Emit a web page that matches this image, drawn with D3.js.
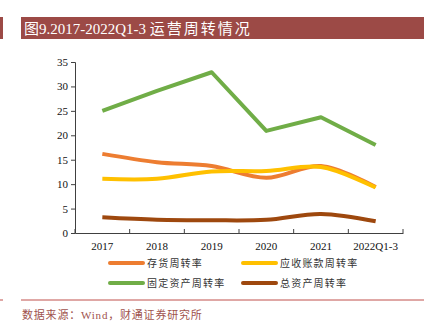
<!DOCTYPE html>
<html>
<head>
<meta charset="utf-8">
<script src="https://cdn.jsdelivr.net/npm/d3@7"></script>
<style>
  body { margin: 0; background: #fff; }
  svg { display: block; }
</style>
</head>
<body>
<div id="chart"></div>
<script>
// categories and series
var years = ["2017", "2018", "2019", "2020", "2021", "2022Q1-3"];
var inventoryTurn = [16.2, 14.5, 13.7, 11.3, 13.7, 9.4];
var receivableTurn = [11.1, 11.1, 12.6, 12.7, 13.5, 9.3];
var fixedAssetTurn = [25.0, 29.1, 32.9, 20.9, 23.7, 18.0];
var totalAssetTurn = [3.2, 2.7, 2.6, 2.7, 3.9, 2.4];
var yTicks = [0, 5, 10, 15, 20, 25, 30, 35];

var series = [
  { name: "存货周转率", values: inventoryTurn, color: "#ED7D31", smooth: true },
  { name: "应收账款周转率", values: receivableTurn, color: "#FFC000", smooth: true },
  { name: "固定资产周转率", values: fixedAssetTurn, color: "#70AD47", smooth: false },
  { name: "总资产周转率", values: totalAssetTurn, color: "#9E480E", smooth: true }
];

var svgWidth = 438;
var svgHeight = 332;
var margin = { top: 62, left: 75, right: 35, bottom: 99 };
var width = 403 - 75;
var height = 233 - 62;

var svg = d3.select("#chart")
  .append("svg")
  .attr("width", svgWidth)
  .attr("height", svgHeight);

var red = "#9C4A46";

// title bar
svg.append("rect").attr("x", 0).attr("y", 17).attr("width", 3).attr("height", 22).attr("fill", red);
svg.append("rect").attr("x", 21).attr("y", 17).attr("width", 403).attr("height", 22).attr("fill", red);
var title = svg.append("text")
  .attr("x", 24).attr("y", 33.5)
  .attr("fill", "#fff")
  .style("font-family", "'Liberation Serif', 'Noto Sans CJK SC', serif")
  .style("font-size", "15px");
title.append("tspan").text("图9.2017-2022Q1-3 ");
title.append("tspan").style("letter-spacing", "2px").text("运营周转情况");

var chartGroup = svg.append("g")
  .attr("transform", `translate(${margin.left}, ${margin.top})`);

var xScale = d3.scaleBand().domain(years).range([0, width]);
var yScale = d3.scaleLinear().domain([0, 35]).range([height, 0]);

var bottomAxis = d3.axisBottom(xScale).tickSize(0).tickPadding(9);
var leftAxis = d3.axisLeft(yScale).tickValues(yTicks).tickSize(4).tickPadding(3);

var xg = chartGroup.append("g")
  .attr("transform", `translate(0, ${height})`)
  .call(bottomAxis);
// inward ticks at band edges
xg.selectAll(".edge")
  .data(d3.range(years.length + 1))
  .enter()
  .append("line")
  .attr("x1", i => i * xScale.step())
  .attr("x2", i => i * xScale.step())
  .attr("y1", 0).attr("y2", -4)
  .attr("stroke", "#404040");

var yg = chartGroup.append("g").call(leftAxis);

[xg, yg].forEach(function(g) {
  g.selectAll("path, line").attr("stroke", "#404040");
  g.selectAll("text")
    .attr("fill", "#111")
    .style("font-family", "'Liberation Serif', serif")
    .style("font-size", "11px");
});

// lines
series.forEach(function(s) {
  var line = d3.line()
    .x((d, i) => xScale(years[i]) + xScale.bandwidth() / 2)
    .y(d => yScale(d))
    .curve(s.smooth ? d3.curveCatmullRom.alpha(0.5) : d3.curveLinear);
  chartGroup.append("path")
    .datum(s.values)
    .attr("d", line)
    .attr("fill", "none")
    .attr("stroke", s.color)
    .attr("stroke-width", 4)
    .attr("stroke-linejoin", "round");
});

// legend
var legend = svg.append("g");
series.forEach(function(s, i) {
  var lx = i % 2 === 0 ? 110 : 243;
  var ly = i < 2 ? 263 : 283;
  legend.append("line")
    .attr("x1", lx).attr("x2", lx + 33)
    .attr("y1", ly).attr("y2", ly)
    .attr("stroke", s.color)
    .attr("stroke-width", 4)
    .attr("stroke-linecap", "round");
  legend.append("text")
    .attr("x", lx + 37).attr("y", ly + 4)
    .attr("fill", "#333")
    .style("font-family", "'Noto Sans CJK SC', sans-serif")
    .style("font-size", "10px")
    .style("letter-spacing", "1.2px")
    .text(s.name);
});

// footer
svg.append("rect").attr("x", 0).attr("y", 299.5).attr("width", 3).attr("height", 1).attr("fill", "#C0504D");
svg.append("line")
  .attr("x1", 21).attr("x2", 424)
  .attr("y1", 300).attr("y2", 300)
  .attr("stroke", "#C0504D").attr("stroke-width", 1);
svg.append("text")
  .attr("x", 22).attr("y", 319)
  .attr("fill", "#A0524D")
  .style("font-family", "'Liberation Serif', 'Noto Sans CJK SC', serif")
  .style("font-size", "11px")
  .style("letter-spacing", "0.8px")
  .text("数据来源：Wind，财通证券研究所");
</script>
</body>
</html>
